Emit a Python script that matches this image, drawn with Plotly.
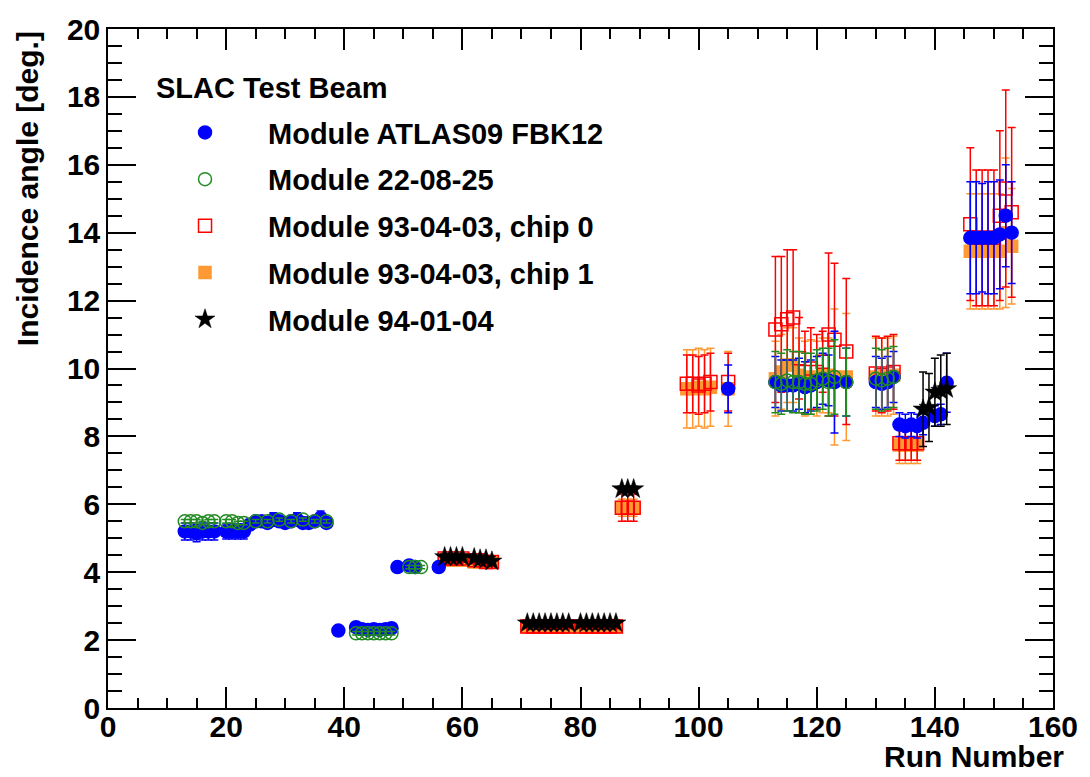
import plotly.graph_objects as go

# ---------------- data ----------------
fbk_x = [13, 14, 15, 16, 17, 18, 20, 21, 22, 23, 24, 25, 26, 27, 28, 29, 30, 31, 32, 33, 34, 35, 36, 37,
         39, 42, 43, 44, 45, 46, 47, 48, 49, 51, 52, 56, 105,
         113, 114, 115, 116, 117, 118, 119, 120, 121, 122, 123, 125,
         130, 131, 132, 133, 134, 135, 136, 137, 138, 140, 141, 142,
         146, 147, 148, 149, 150, 151, 152, 153]
fbk_y = [5.2, 5.2, 5.15, 5.2, 5.2, 5.2, 5.2, 5.2, 5.2, 5.2, 5.4, 5.5, 5.5, 5.45, 5.55, 5.5, 5.45, 5.5, 5.55, 5.45, 5.45, 5.5, 5.6, 5.45,
         2.28, 2.38, 2.32, 2.3, 2.32, 2.3, 2.32, 2.35, 4.15, 4.2, 4.15, 4.15, 9.4,
         9.6, 9.5, 9.5, 9.5, 9.55, 9.45, 9.5, 9.6, 9.7, 9.65, 9.6, 9.6,
         9.6, 9.55, 9.6, 9.75, 8.35, 8.3, 8.35, 8.3, 8.4, 8.6, 8.65, 9.58,
         13.85, 13.85, 13.85, 13.85, 13.85, 13.95, 14.5, 14.0]
fbk_err = [0.25, 0.25, 0.25, 0.25, 0.25, 0.25, 0.22, 0.22, 0.22, 0.22, 0.15, 0.15, 0.15, 0.15, 0.2, 0.15, 0.15, 0.15, 0.2, 0.15, 0.15, 0.15, 0.2, 0.15,
           0.05, 0.1, 0.1, 0.1, 0.1, 0.1, 0.1, 0.1, 0.05, 0.05, 0.05, 0.05, 0.7,
           0.75, 0.75, 0.75, 0.75, 0.75, 0.75, 0.75, 0.75, 0.75, 0.75, 1.5, 1.0,
           0.75, 0.75, 0.75, 0.75, 0.35, 0.35, 0.35, 0.35, 0.35, 0.3, 0.3, 0.87,
           1.65, 1.65, 1.6, 1.65, 1.65, 1.6, 1.5, 1.5]

m22_x = [13, 14, 15, 16, 17, 18, 20, 21, 22, 23, 25, 27, 29, 31, 33, 35, 37,
         42, 43, 44, 45, 46, 47, 48, 51, 52, 53,
         113, 114, 115, 116, 117, 118, 119, 120, 121, 122, 123, 125,
         130, 131, 132, 133]
m22_y = [5.5, 5.5, 5.5, 5.45, 5.5, 5.5, 5.5, 5.5, 5.45, 5.45, 5.5, 5.5, 5.55, 5.5, 5.55, 5.5, 5.5,
         2.2, 2.2, 2.2, 2.2, 2.2, 2.2, 2.2, 4.15, 4.15, 4.15,
         9.6, 9.55, 9.65, 9.6, 9.6, 9.55, 9.55, 9.65, 9.7, 9.6, 9.75, 9.6,
         9.7, 9.65, 9.7, 9.75]
m22_err = [0.05, 0.05, 0.05, 0.05, 0.05, 0.05, 0.05, 0.05, 0.05, 0.05, 0.05, 0.05, 0.05, 0.05, 0.05, 0.05, 0.05,
           0.05, 0.05, 0.05, 0.05, 0.05, 0.05, 0.05, 0.05, 0.05, 0.05,
           0.9, 0.9, 0.9, 0.9, 0.9, 0.9, 0.9, 0.9, 0.9, 1.0, 1.1, 1.0,
           0.9, 0.9, 0.9, 0.9]

c0_x = [57, 58, 59, 60, 62, 63, 64, 65,
        71, 72, 73, 74, 75, 76, 77, 78, 80, 81, 82, 83, 84, 85, 86,
        87, 88, 89, 98, 99, 100, 101, 102, 105,
        113, 114, 115, 116, 117, 118, 119, 120, 121, 122, 123, 125,
        130, 131, 132, 133, 134, 135, 136, 137,
        146, 147, 148, 149, 150, 151, 152, 153]
c0_y = [4.4, 4.4, 4.4, 4.4, 4.35, 4.35, 4.3, 4.3,
        2.4, 2.4, 2.4, 2.4, 2.4, 2.4, 2.4, 2.4, 2.4, 2.4, 2.4, 2.4, 2.4, 2.4, 2.4,
        5.9, 5.9, 5.9, 9.55, 9.55, 9.5, 9.55, 9.6, 9.6,
        11.15, 11.3, 11.45, 11.5, 10.3, 9.9, 10.0, 9.9, 10.2, 11.0, 10.85, 10.5,
        9.85, 9.8, 9.85, 9.9, 7.8, 7.8, 7.8, 7.8,
        14.25, 13.85, 13.85, 13.85, 13.85, 14.5, 15.3, 14.6]
c0_err = [0.1, 0.1, 0.1, 0.1, 0.1, 0.1, 0.1, 0.1,
          0.05, 0.05, 0.05, 0.05, 0.05, 0.05, 0.05, 0.05, 0.05, 0.05, 0.05, 0.05, 0.05, 0.05, 0.05,
          0.4, 0.4, 0.4, 0.85, 0.85, 0.85, 0.85, 0.85, 0.85,
          2.15, 2.0, 2.05, 2.0, 1.2, 1.2, 1.2, 1.1, 0.9, 2.4, 2.25, 2.15,
          1.1, 1.1, 1.1, 1.1, 0.5, 0.5, 0.5, 0.5,
          2.25, 2.0, 2.0, 2.0, 2.0, 2.5, 2.9, 2.5]

c1_x = [57, 58, 59, 60, 62, 63, 64, 65,
        71, 72, 73, 74, 75, 76, 77, 78, 80, 81, 82, 83, 84, 85, 86,
        87, 88, 89, 98, 99, 100, 101, 102, 105,
        113, 114, 115, 116, 117, 118, 119, 120, 121, 122, 123, 125,
        130, 131, 132, 133, 134, 135, 136, 137,
        146, 147, 148, 149, 150, 151, 152, 153]
c1_y = [4.35, 4.35, 4.35, 4.35, 4.3, 4.3, 4.3, 4.3,
        2.4, 2.4, 2.4, 2.4, 2.4, 2.4, 2.4, 2.4, 2.4, 2.4, 2.4, 2.4, 2.4, 2.4, 2.4,
        5.9, 5.9, 5.9, 9.4, 9.4, 9.45, 9.4, 9.45, 9.4,
        9.7, 9.9, 10.1, 10.1, 9.8, 9.7, 9.75, 9.7, 9.8, 9.8, 9.75, 9.75,
        9.75, 9.75, 9.75, 9.8, 7.75, 7.75, 7.75, 7.75,
        13.45, 13.45, 13.45, 13.45, 13.45, 13.45, 14.0, 13.6]
c1_err = [0.1, 0.1, 0.1, 0.1, 0.1, 0.1, 0.1, 0.1,
          0.05, 0.05, 0.05, 0.05, 0.05, 0.05, 0.05, 0.05, 0.05, 0.05, 0.05, 0.05, 0.05, 0.05, 0.05,
          0.25, 0.25, 0.25, 1.15, 1.15, 1.15, 1.15, 1.15, 1.1,
          1.1, 1.1, 1.1, 1.1, 1.1, 1.1, 1.1, 1.1, 1.1, 1.1, 2.0, 1.87,
          1.15, 1.15, 1.15, 1.15, 0.55, 0.55, 0.55, 0.55,
          1.7, 1.7, 1.7, 1.7, 1.7, 1.7, 2.2, 1.7]

m94_x = [57, 58, 59, 60, 62, 63, 64, 65,
         71, 72, 73, 74, 75, 76, 77, 78, 80, 81, 82, 83, 84, 85, 86,
         87, 88, 89, 138, 139, 140, 141, 142]
m94_y = [4.45, 4.45, 4.45, 4.45, 4.42, 4.38, 4.38, 4.32,
         2.5, 2.5, 2.5, 2.5, 2.5, 2.5, 2.5, 2.5, 2.5, 2.5, 2.5, 2.5, 2.5, 2.5, 2.5,
         6.45, 6.45, 6.45, 8.8, 8.85, 9.3, 9.35, 9.4]
m94_err = [0.05, 0.05, 0.05, 0.05, 0.05, 0.05, 0.05, 0.05,
           0.05, 0.05, 0.05, 0.05, 0.05, 0.05, 0.05, 0.05, 0.05, 0.05, 0.05, 0.05, 0.05, 0.05, 0.05,
           0.05, 0.05, 0.05, 1.1, 1.0, 1.0, 1.05, 1.05]

names = ["Module ATLAS09 FBK12", "Module 22-08-25", "Module 93-04-03, chip 0",
         "Module 93-04-03, chip 1", "Module 94-01-04"]

x_ticks = [0, 20, 40, 60, 80, 100, 120, 140, 160]
y_ticks = [0, 2, 4, 6, 8, 10, 12, 14, 16, 18, 20]

FONT = "Liberation Sans, Arial, sans-serif"

fig = go.Figure()


def add(xs, ys, es, name, color, symbol, size, rank, lw=1.5):
    fig.add_trace(go.Scatter(
        x=xs, y=ys, mode="markers", name=name, legendrank=rank, legendgroup=name,
        marker=dict(color=color, symbol=symbol, size=size,
                    line=dict(color=color, width=lw)),
        error_y=dict(type="data", array=es, visible=True, color=color,
                     thickness=1.5, width=4),
    ))


add(c1_x, c1_y, c1_err, names[3], "#ff9933", "square", 12, 4)
add(c0_x, c0_y, c0_err, names[2], "#ff0000", "square-open", 13, 3)
add(fbk_x, fbk_y, fbk_err, names[0], "#0000ff", "circle", 13, 1)
add(m22_x, m22_y, m22_err, names[1], "#228b22", "circle-open", 13, 2)
add(m94_x, m94_y, m94_err, names[4], "#000000", "star", 15, 5, lw=0.5)

axis_common = dict(
    showgrid=False, zeroline=False, showline=True, linecolor="black", linewidth=1.5,
    mirror="allticks", ticks="inside", tickcolor="black", tickwidth=1.5,
    tickfont=dict(family=FONT, size=30, color="black", weight="bold"),
)

fig.update_layout(
    width=1090, height=777,
    margin=dict(l=108, r=27, t=17, b=69),
    paper_bgcolor="white", plot_bgcolor="white",
    showlegend=True,
    legend=dict(
        x=0.036, y=0.885, xanchor="left", yanchor="top",
        bgcolor="rgba(0,0,0,0)", borderwidth=0,
        font=dict(family=FONT, size=29, color="black", weight="bold"),
        itemwidth=116, tracegroupgap=6, traceorder="grouped",
    ),
    xaxis=dict(range=[0, 160], tickvals=x_ticks, ticklen=21, ticklabelstandoff=-9,
               minor=dict(dtick=5, ticklen=10, ticks="inside", tickcolor="black", tickwidth=1.5),
               **axis_common),
    yaxis=dict(range=[0, 20], tickvals=y_ticks, ticklen=28,
               minor=dict(dtick=0.5, ticklen=14, ticks="inside", tickcolor="black", tickwidth=1.5),
               **axis_common),
    annotations=[
        dict(text="<b>SLAC Test Beam</b>", xref="paper", yref="paper", x=0.049, y=0.913,
             xanchor="left", yanchor="middle", showarrow=False,
             font=dict(family=FONT, size=29, color="black")),
        dict(text="<b>Run Number</b>", xref="paper", yref="paper", x=1.0136, y=-0.071,
             xanchor="right", yanchor="middle", showarrow=False,
             font=dict(family=FONT, size=30, color="black")),
        dict(text="<b>Incidence angle [deg.]</b>", xref="paper", yref="paper", x=-0.085, y=1.0,
             xanchor="center", yanchor="top", textangle=-90, showarrow=False,
             font=dict(family=FONT, size=30, color="black")),
    ],
)

fig.write_html("out.html")
